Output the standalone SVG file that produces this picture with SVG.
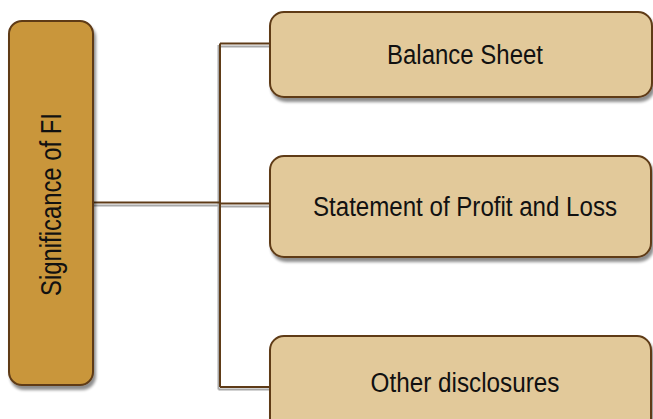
<svg xmlns="http://www.w3.org/2000/svg" width="653" height="419" viewBox="0 0 653 419">
<defs>
<filter id="sh" x="-10%" y="-10%" width="130%" height="130%">
<feGaussianBlur in="SourceAlpha" stdDeviation="1.5"/>
<feOffset dx="2" dy="4" result="b"/>
<feComponentTransfer><feFuncA type="linear" slope="0.45"/></feComponentTransfer>
<feMerge><feMergeNode/><feMergeNode in="SourceGraphic"/></feMerge>
</filter>
<style>
.root{fill:#C9963A;stroke:#5E3B17;stroke-width:2}
.leaf{fill:#E2C99A;stroke:#5E3B17;stroke-width:2}
.t{font-family:"Liberation Sans",Arial,sans-serif;fill:#111;text-anchor:middle}
.ln{fill:none;stroke:#5E3B17;stroke-width:2}
.lns{fill:none;stroke:#A8A8A8;stroke-width:2}
</style>
</defs>
<rect width="653" height="419" fill="#fff"/>
<g id="connectors">
<path class="lns" d="M93 205.5H218.5M218.5 45V389.5M218.5 46.5H270M218.5 206.5H270M218.5 389.5H270"/>
<path class="ln" d="M93 202.5H220M220 43.5V387M220 43.5H270M220 203.5H270M220 387H270"/>
</g>
<g id="node-root">
<rect class="root" x="9" y="21" width="84" height="364" rx="13" filter="url(#sh)"/>
<text class="t" transform="translate(61,204.5) rotate(-90)" font-size="30" textLength="183" lengthAdjust="spacingAndGlyphs">Significance of FI</text>
</g>
<g id="node-balance">
<rect class="leaf" x="270" y="12" width="382" height="85" rx="14" filter="url(#sh)"/>
<text class="t" x="465" y="64" font-size="27" textLength="156" lengthAdjust="spacingAndGlyphs">Balance Sheet</text>
</g>
<g id="node-pl">
<rect class="leaf" x="270" y="156" width="381" height="101" rx="14" filter="url(#sh)"/>
<text class="t" x="465" y="216" font-size="27" textLength="304" lengthAdjust="spacingAndGlyphs">Statement of Profit and Loss</text>
</g>
<g id="node-other">
<rect class="leaf" x="270" y="336" width="381" height="100" rx="14" filter="url(#sh)"/>
<text class="t" x="465" y="392" font-size="27" textLength="189" lengthAdjust="spacingAndGlyphs">Other disclosures</text>
</g>
</svg>
